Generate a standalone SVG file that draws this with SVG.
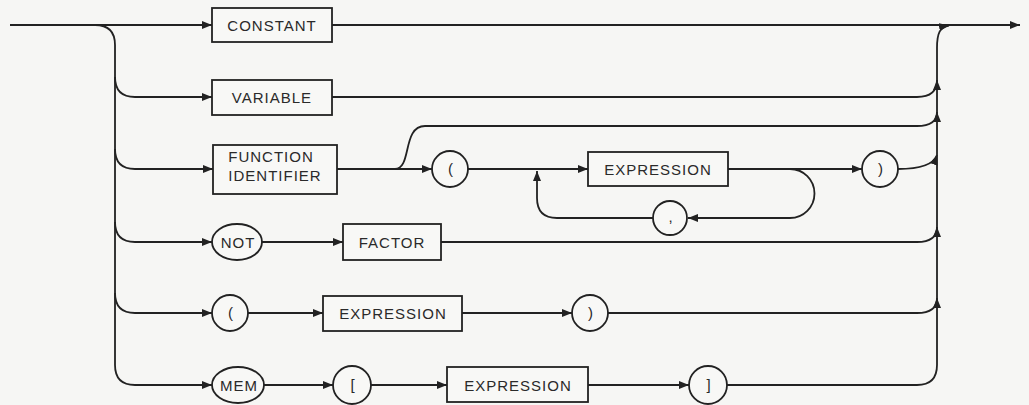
<svg xmlns="http://www.w3.org/2000/svg" width="1029" height="405" viewBox="0 0 1029 405">
<style>
.bg{fill:#f6f6f4}
.ln{fill:none;stroke:#222;stroke-width:1.8}
.bx{fill:#f8f8f6;stroke:#222;stroke-width:1.8}
.t{font-family:"Liberation Sans",Arial,sans-serif;font-size:15px;fill:#2a2a2a;letter-spacing:1px;text-anchor:middle}
.a{marker-end:url(#ar)}
</style>
<defs>
<marker id="ar" markerUnits="userSpaceOnUse" markerWidth="12" markerHeight="10" refX="10" refY="4" orient="auto">
<path d="M0,0 L10,4 L0,8 Z" fill="#222"/>
</marker>
</defs>
<rect class="bg" x="0" y="0" width="1029" height="405"/>
<g id="connectors">
<path class="ln a" d="M10,25 H212"/>
<path class="ln a" d="M332,25 H1020"/>
<path class="ln a" d="M95,25 Q115,25 115,45 V365 Q115,385 135,385 H212"/>
<path class="ln a" d="M115,77 Q115,97 135,97 H212"/>
<path class="ln a" d="M115,149 Q115,169 135,169 H213"/>
<path class="ln a" d="M115,222 Q115,242 135,242 H212"/>
<path class="ln a" d="M115,293 Q115,313 135,313 H212"/>
<path class="ln" d="M727,385 H917 Q937,385 937,365 V48"/>
<path class="ln a" d="M937,48 C937,33 940,27 949,25.5"/>
<path class="ln a" d="M332,97 H917 Q937,97 937,80"/>
<path class="ln a" d="M337,169 H432"/>
<path class="ln a" d="M395,169 C412,169 402,126 425,126 H917 Q937,126 937,112"/>
<path class="ln a" d="M468,169 H588"/>
<path class="ln a" d="M728,169 H862"/>
<path class="ln a" d="M790,169 A24.5,24.5 0 0 1 790,218 H688"/>
<path class="ln a" d="M653,218 H557 Q537,218 537,198 V171"/>
<path class="ln a" d="M898,169 Q932,169 937,155"/>
<path class="ln a" d="M262,242 H343"/>
<path class="ln a" d="M441,242 H917 Q937,242 937,227"/>
<path class="ln a" d="M248,313 H323"/>
<path class="ln a" d="M462,313 H572"/>
<path class="ln a" d="M608,313 H917 Q937,313 937,298"/>
<path class="ln a" d="M264,385 H333"/>
<path class="ln a" d="M371,385 H447"/>
<path class="ln a" d="M588,385 H689"/>
</g>
<g id="constant"><rect class="bx" x="212" y="8" width="120" height="34"/><text class="t" x="272" y="30.5">CONSTANT</text></g>
<g id="variable"><rect class="bx" x="212" y="80" width="120" height="35"/><text class="t" x="272" y="103">VARIABLE</text></g>
<g id="function-identifier"><rect class="bx" x="213" y="145" width="124" height="49"/><text class="t" x="271" y="162">FUNCTION</text><text class="t" x="275" y="181">IDENTIFIER</text></g>
<g id="lparen1"><circle class="bx" cx="450" cy="169" r="18"/><text class="t" x="451" y="174">(</text></g>
<g id="expression1"><rect class="bx" x="588" y="152" width="140" height="34"/><text class="t" x="658" y="174.5">EXPRESSION</text></g>
<g id="comma"><circle class="bx" cx="670" cy="218" r="17"/><text class="t" x="671" y="222">,</text></g>
<g id="rparen1"><circle class="bx" cx="880" cy="169" r="18"/><text class="t" x="881" y="174">)</text></g>
<g id="not"><ellipse class="bx" cx="237" cy="242" rx="25" ry="18"/><text class="t" x="238" y="247.5">NOT</text></g>
<g id="factor"><rect class="bx" x="343" y="224" width="98" height="36"/><text class="t" x="392" y="247.5">FACTOR</text></g>
<g id="lparen2"><circle class="bx" cx="230" cy="313" r="18"/><text class="t" x="231" y="318">(</text></g>
<g id="expression2"><rect class="bx" x="323" y="296" width="139" height="35"/><text class="t" x="393" y="319">EXPRESSION</text></g>
<g id="rparen2"><circle class="bx" cx="590" cy="313" r="18"/><text class="t" x="591" y="318">)</text></g>
<g id="mem"><ellipse class="bx" cx="238" cy="385" rx="26" ry="18"/><text class="t" x="239" y="390.5">MEM</text></g>
<g id="lbracket"><circle class="bx" cx="352" cy="385" r="19"/><text class="t" x="353" y="390">[</text></g>
<g id="expression3"><rect class="bx" x="447" y="367" width="141" height="35"/><text class="t" x="518" y="390.5">EXPRESSION</text></g>
<g id="rbracket"><circle class="bx" cx="708" cy="385" r="19"/><text class="t" x="709" y="390">]</text></g>
</svg>
